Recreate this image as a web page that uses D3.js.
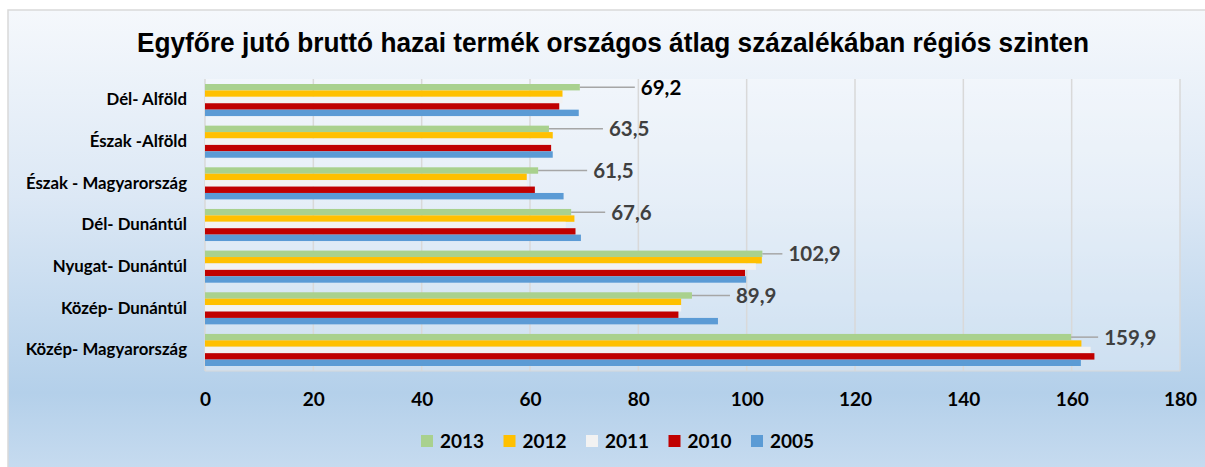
<!DOCTYPE html>
<html lang="hu">
<head>
<meta charset="UTF-8">
<title>Egyfőre jutó GDP</title>
<style>
    body{ margin:0; background:#fff; }
    svg text{ font-family: Lato, "Open Sans", sans-serif; font-weight:700; }
</style>
</head>
<body>
<div id="chart"></div>
<script src="https://d3js.org/d3.v7.min.js"></script>
<script>
// data
const regions = ["Dél- Alföld","Észak -Alföld","Észak - Magyarország","Dél- Dunántúl","Nyugat- Dunántúl","Közép- Dunántúl","Közép- Magyarország"]
const years = ["2013","2012","2011","2010","2005"]
const v2013 = [69.2, 63.5, 61.5, 67.6, 102.9, 89.9, 159.9]
const v2012 = [66.0, 64.2, 59.4, 68.2, 102.8, 87.9, 161.8]
const v2011 = [66.0, 63.9, 59.4, 66.6, 101.7, 87.9, 163.5]
const v2010 = [65.4, 63.9, 60.9, 68.4, 99.7, 87.4, 164.2]
const v2005 = [69.0, 64.2, 66.2, 69.4, 99.9, 94.7, 161.7]
const xTicks = [0,20,40,60,80,100,120,140,160,180]
// leader line length for each 2013 label (px)
const leader = [55, 54, 49, 34, 20, 38, 27]

const series = [v2013, v2012, v2011, v2010, v2005]
const colors = ["#a9d18e","#ffc000","#f2f2f2","#c00000","#5b9bd5"]

const W = 1205, H = 467
const plot = {left:205, top:79, right:1180, bottom:371}

let svg = d3.select("#chart").append("svg")
    .attr("width", W).attr("height", H)

let defs = svg.append("defs")
let grad = defs.append("linearGradient").attr("id","bg").attr("x1",0).attr("y1",0).attr("x2",0).attr("y2",1)
grad.append("stop").attr("offset","0%").attr("stop-color","#f5f8fc")
grad.append("stop").attr("offset","40%").attr("stop-color","#dce8f5")
grad.append("stop").attr("offset","82%").attr("stop-color","#b4d0ea")
grad.append("stop").attr("offset","100%").attr("stop-color","#c8dcf0")

svg.append("rect")
    .attr("x",8).attr("y",10).attr("width",W+10).attr("height",H)
    .attr("fill","url(#bg)").attr("stroke","#d9d9d9").attr("stroke-width",1.5)

// plot area
svg.append("rect")
    .attr("x",plot.left).attr("y",plot.top)
    .attr("width",plot.right-plot.left).attr("height",plot.bottom-plot.top)
    .attr("fill","#fff").attr("opacity",0.3)

svg.append("text")
    .attr("x",613).attr("y",52)
    .attr("text-anchor","middle")
    .attr("textLength",952)
    .attr("lengthAdjust","spacingAndGlyphs")
    .style("font-family",'"Liberation Sans Narrow","Arial Narrow","Liberation Sans",sans-serif')
    .style("font-size","27px")
    .attr("fill","#000")
    .text("Egyfőre jutó bruttó hazai termék országos átlag százalékában régiós szinten")

let x = d3.scaleLinear().domain([0,180]).range([plot.left, plot.right])
let y = d3.scaleBand().domain(regions).range([plot.top, plot.bottom]).paddingInner(0.23).paddingOuter(0.12)
let yIn = d3.scaleBand().domain(years).range([0, y.bandwidth()])

// gridlines
svg.append("g").selectAll("line")
    .data(xTicks)
    .join("line")
    .attr("x1",d=>x(d)).attr("x2",d=>x(d))
    .attr("y1",plot.top).attr("y2",plot.bottom)
    .attr("stroke","#d9d9d9").attr("stroke-width",1.5)

svg.append("line")
    .attr("x1",plot.left).attr("x2",plot.right)
    .attr("y1",plot.bottom).attr("y2",plot.bottom)
    .attr("stroke","#d9d9d9").attr("stroke-width",1)

// bars
let groups = svg.append("g").selectAll("g")
    .data(years)
    .join("g")
    .attr("fill",(d,i)=>colors[i])

groups.selectAll("rect")
    .data((yr,i)=>series[i].map((v,j)=>({region:regions[j], year:yr, value:v})))
    .join("rect")
    .attr("x", x(0))
    .attr("y", d=>y(d.region)+yIn(d.year))
    .attr("width", d=>x(d.value)-x(0))
    .attr("height", yIn.bandwidth())

// axes
let xAxis = svg.append("g")
    .attr("transform",`translate(0,${plot.bottom})`)
    .call(d3.axisBottom(x).tickValues(xTicks).tickSize(0).tickPadding(22))
xAxis.select(".domain").remove()
xAxis.selectAll("text").style("font-size","19px").attr("fill","#000")

let yAxis = svg.append("g")
    .attr("transform",`translate(${plot.left},0)`)
    .call(d3.axisLeft(y).tickSize(0).tickPadding(18))
yAxis.select(".domain").remove()
yAxis.selectAll("text").style("font-size","16.8px").attr("fill","#000")

// 2013 labels with leader lines
let lab = svg.append("g").selectAll("g")
    .data(regions)
    .join("g")
lab.append("line")
    .attr("x1",(d,i)=>x(v2013[i]))
    .attr("x2",(d,i)=>x(v2013[i])+leader[i])
    .attr("y1",d=>y(d)+yIn("2013")+yIn.bandwidth()/2)
    .attr("y2",d=>y(d)+yIn("2013")+yIn.bandwidth()/2)
    .attr("stroke","#a6a6a6").attr("stroke-width",1.5)
lab.append("text")
    .attr("x",(d,i)=>x(v2013[i])+leader[i]+6)
    .attr("y",d=>y(d)+yIn("2013")+yIn.bandwidth()/2)
    .attr("dy","0.36em")
    .style("font-size","20.5px")
    .attr("fill",(d,i)=>i==0 ? "#000" : "#404040")
    .text((d,i)=>d3.format(".1f")(v2013[i]).replace(".",","))

// legend
let leg = svg.append("g").selectAll("g")
    .data(years)
    .join("g")
    .attr("transform",(d,i)=>`translate(${421+i*82.5},441)`)
leg.append("rect")
    .attr("y",-6).attr("width",12).attr("height",12)
    .attr("fill",(d,i)=>colors[i])
leg.append("text")
    .attr("x",19).attr("dy","0.36em")
    .style("font-size","19px")
    .text(d=>d)
</script>
</body>
</html>
